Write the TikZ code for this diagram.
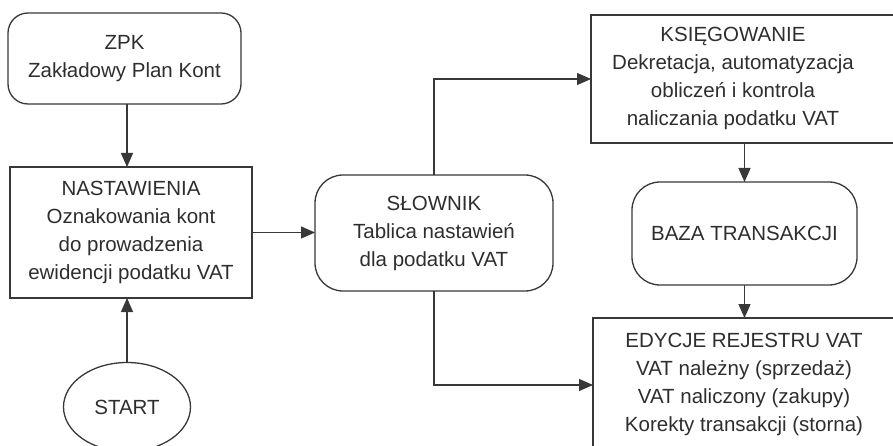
\documentclass[tikz,border=0pt]{standalone}
\usepackage{fontspec}
\setmainfont{Liberation Sans}
\usetikzlibrary{arrows.meta,shapes.geometric}
\begin{document}
\begin{tikzpicture}[x=1pt,y=-1pt,
  every node/.style={inner sep=0pt, outer sep=0pt},
  line/.style={draw=black!78, line width=1.3pt},
  box/.style={line, rectangle},
  rbox/.style={line, rectangle},
  txt/.style={align=center, text=black!82, font=\fontsize{20.5}{28}\selectfont},
  arr/.style={line, -{Triangle[length=14pt,width=12pt]}}
]
\useasboundingbox (0,0) rectangle (893,446);
\clip (0,0) rectangle (893,446);

\node[rbox, rounded corners=20pt, minimum width=233pt, minimum height=91pt, txt] (zpk) at (124.5,58.5) {ZPK\\Zakładowy Plan Kont};
\node[box, minimum width=242pt, minimum height=131pt, txt] (nast) at (131,232.5) {NASTAWIENIA\\Oznakowania kont\\do prowadzenia\\ewidencji podatku VAT};
\node[line, ellipse, minimum width=127pt, minimum height=89pt, txt] (start) at (127,407) {START};
\node[rbox, rounded corners=28pt, minimum width=238pt, minimum height=116pt, txt] (slow) at (434,233) {SŁOWNIK\\Tablica nastawień\\dla podatku VAT};

\node[box, minimum width=369pt, minimum height=128pt, anchor=north west] (ksieg) at (591,15) {};
\node[txt] (ksiegt) at (733,78) {KSIĘGOWANIE\\Dekretacja, automatyzacja\\obliczeń i kontrola\\naliczania podatku VAT};

\node[rbox, rounded corners=28pt, minimum width=225pt, minimum height=103pt, txt] (baza) at (744.5,233.5) {BAZA TRANSAKCJI};

\node[box, minimum width=367pt, minimum height=134pt, anchor=north west] (edy) at (593,318) {};
\node[txt] (edyt) at (744,384) {EDYCJE REJESTRU VAT\\VAT należny (sprzedaż)\\VAT naliczony (zakupy)\\Korekty transakcji (storna)};

\draw[arr] (zpk.south -| start.north) -- (nast.north -| start.north);
\draw[arr] (start.north) -- (nast.south -| start.north);
\draw[arr] (nast.east) -- (nast.east -| slow.west);
\draw[arr] (slow.north) |- (ksieg.west);
\draw[arr] (slow.south) |- (edy.west);
\draw[arr] (ksieg.south -| baza.north) -- (baza.north);
\draw[arr] (baza.south) -- (baza.south |- edy.north);
\end{tikzpicture}
\end{document}
